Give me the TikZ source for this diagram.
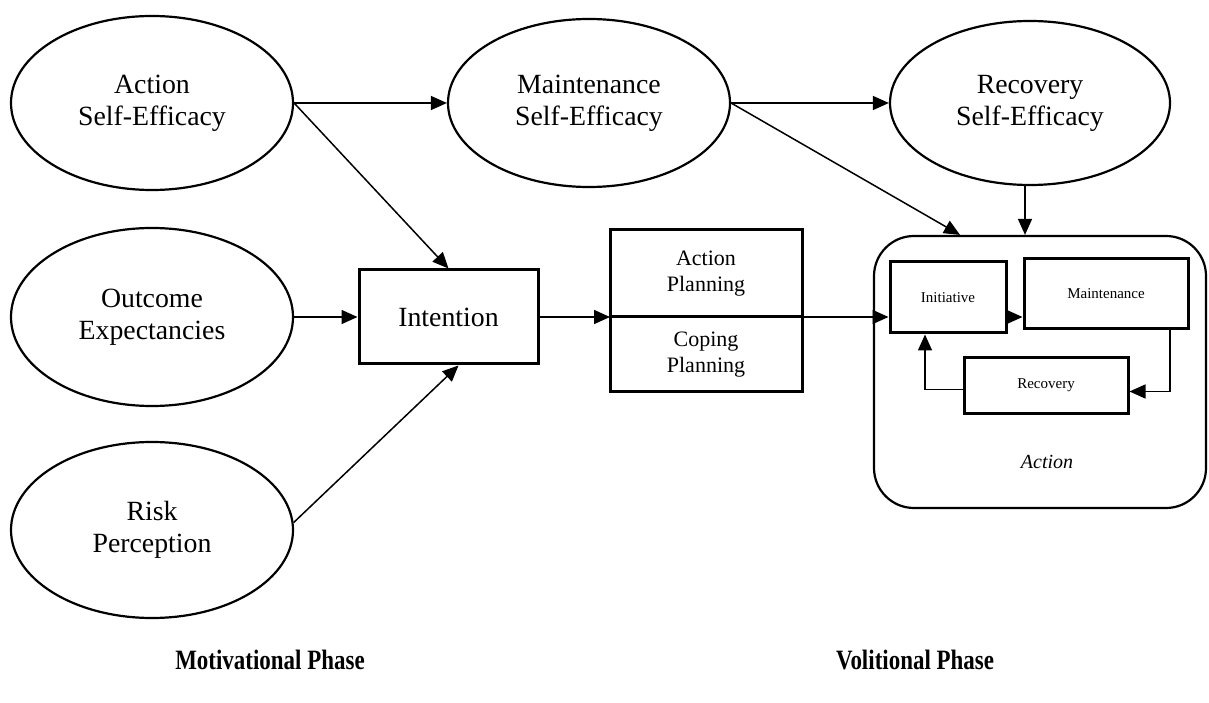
\documentclass[tikz,border=0pt]{standalone}
\usepackage{fontspec}
\setmainfont{Liberation Serif}
\usepackage{tikz}
\usetikzlibrary{positioning,shapes,arrows.meta}

\begin{document}
\begin{tikzpicture}[x=0.5pt, y=0.5pt, >={Triangle[length=8pt,width=7pt]},
  belief/.style={draw, ellipse, line width=1.1pt, minimum width=141pt, minimum height=87pt, align=center, font=\fontsize{13.9}{16}\selectfont},
  stage/.style={draw, rectangle, line width=1.5pt, align=center},
  small stage/.style={stage, font=\fontsize{7.5}{9}\selectfont},
  phase/.style={font=\fontsize{14}{16}\selectfont\bfseries},
  link/.style={->, line width=0.75pt}]

\useasboundingbox (0,0) rectangle (1209,702);

% motivational part
\node (action-se) [belief] at (152,599) {Action\\Self-Efficacy};
\node (outcome) [belief, minimum height=89pt] at (152,385) {Outcome\\Expectancies};
\node (risk) [belief, minimum height=88pt] at (152,172) {Risk\\Perception};

\node (maint-se) [belief, minimum height=84pt] at (589,599) {Maintenance\\Self-Efficacy};
\node (recov-se) [belief, minimum width=140pt, minimum height=82pt] at (1030,599) {Recovery\\Self-Efficacy};

\node (intention) [stage, minimum width=89.5pt, minimum height=47pt, font=\fontsize{13.9}{16}\selectfont] at (448.5,385) {Intention};

\node (plan-a) [stage, minimum width=96pt, minimum height=43.5pt, outer sep=0pt, font=\fontsize{11}{13}\selectfont] at (706,428.5) {Action\\Planning};
\node (plan-c) [stage, minimum width=96pt, minimum height=37.5pt, outer sep=0pt, font=\fontsize{11}{13}\selectfont, below=0pt of plan-a] {Coping\\Planning};

% volitional part
\node (action-box) [draw, rounded corners=20pt, line width=1.1pt, minimum width=166pt, minimum height=136pt] at (1040,330) {};
\node (initiative) [small stage, minimum width=58pt, minimum height=35.5pt] at (948,404.5) {Initiative};
\node (maintenance) [small stage, minimum width=82pt, minimum height=35pt] at (1106,408) {Maintenance};
\node (recovery) [small stage, minimum width=82pt, minimum height=27.5pt] at (1046,316.5) {Recovery};
\node (action-lbl) [font=\fontsize{10}{12}\selectfont\itshape] at (1047,240) {Action};

\node (motiv) [phase] at (270,42) {\scalebox{0.82}[1]{Motivational Phase}};
\node (volit) [phase] at (915,42) {\scalebox{0.82}[1]{Volitional Phase}};

\draw [link] (action-se.east) -- (maint-se.west);
\draw [link] (maint-se.east) -- (recov-se.west);
\draw [link] (action-se.east) -- (intention.north);
\draw [link] (outcome.east) -- (intention.west);
\draw [link] (risk.3) -- ([xshift=5pt]intention.south);

\draw [link] (intention.east) -- (plan-a.south west);
\draw [link] (plan-a.south east) -- (plan-a.south east -| initiative.west);

\draw [link] (maint-se.east) -- ([xshift=-40pt]action-box.north);
\draw [link] ([xshift=-2.5pt]recov-se.south) -- ([xshift=-2.5pt]recov-se.south |- action-box.north);

\draw [link] (initiative.east |- plan-a.south) -- (maintenance.west |- plan-a.south);
\draw [link] ([xshift=32pt]maintenance.south) |- ([yshift=-3pt]recovery.east);
\draw [link] ([yshift=-2pt]recovery.west) -| ([xshift=-11.5pt]initiative.south);

\end{tikzpicture}
\end{document}
